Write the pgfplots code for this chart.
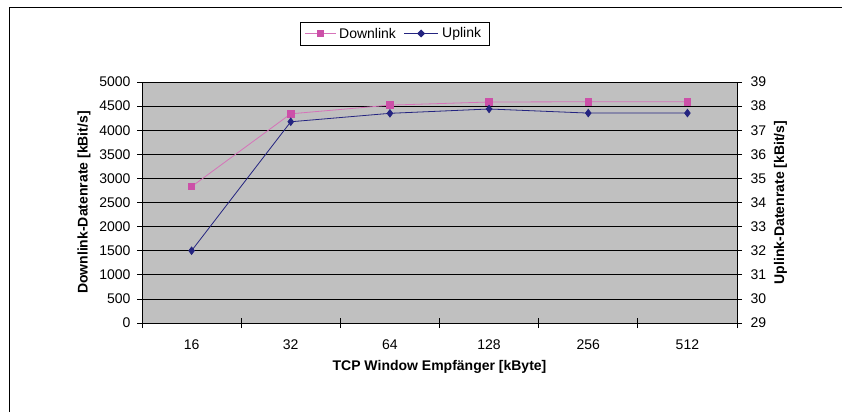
\documentclass[border=0pt]{standalone}
\usepackage{pgfplots}
\pgfplotsset{compat=1.18}
\usepackage{fontspec}
\setmainfont{Liberation Sans}

\definecolor{dlpink}{RGB}{204,80,168}
\definecolor{ulnavy}{RGB}{36,36,128}
\definecolor{plotgray}{RGB}{192,192,192}

\pgfplotstableread{
x  rate
0  2830
1  4340
2  4520
3  4585
4  4590
5  4590
}\downlink

\pgfplotstableread{
x  rate
0  32.00
1  37.35
2  37.70
3  37.88
4  37.71
5  37.71
}\uplink

\begin{document}
\begin{tikzpicture}[x=1pt,y=1pt]
\useasboundingbox (0,0) rectangle (842,412);
% outer chart frame (left and top edges visible)
\draw[line width=0.9pt] (9,0) -- (9,405) -- (842,405);

\pgfplotsset{
  common/.style={
    scale only axis,
    width=595pt, height=241pt,
    at={(142pt,89pt)}, anchor=south west,
    xmin=-0.5, xmax=5.5,
    font=\fontsize{14}{16}\selectfont,
    tick style={black, line width=0.8pt},
    /pgf/number format/assume math mode=true,
    /pgf/number format/1000 sep={},
  }
}

\begin{axis}[
  common,
  axis background/.style={fill=plotgray},
  axis line style={line width=0.9pt},
  ymin=0, ymax=5000,
  ytick={0,500,...,5000},
  ymajorgrids,
  major grid style={black, line width=0.8pt},
  axis y line*=left,
  axis x line*=bottom,
  xtick={0,1,2,3,4,5},
  xticklabels={16,32,64,128,256,512},
  major x tick style={draw=none},
  minor xtick={-0.5,0.5,1.5,2.5,3.5,4.5,5.5},
  xtick align=center,
  ytick align=outside,
  minor tick length=10pt,
  major tick length=5pt,
  xticklabel style={yshift=-11pt},
  yticklabel style={xshift=-3pt},
  xlabel={\textbf{TCP Window Empfänger [kByte]}},
  xlabel style={yshift=-4pt},
  ylabel={\textbf{Downlink-Datenrate [kBit/s]}},
  ylabel style={yshift=2pt},
  clip=false,
]
\addplot[color=dlpink!80, line width=0.8pt, mark=square*, mark size=3.3pt,
  mark options={fill=dlpink, draw=dlpink, solid}] table[x=x,y=rate] {\downlink};
\end{axis}

\begin{axis}[
  common,
  axis x line=none,
  axis y line*=right,
  axis line style={line width=0.9pt},
  ymin=29, ymax=39,
  ytick={29,30,...,39},
  ytick align=outside,
  major tick length=5pt,
  yticklabel style={xshift=5pt},
  ylabel={\textbf{Uplink-Datenrate [kBit/s]}},
  ylabel style={yshift=-1pt},
  clip=false,
]
\addplot[color=ulnavy, line width=0.8pt, mark=diamond*, mark size=3.7pt,
  mark options={fill=ulnavy, draw=ulnavy, solid}] table[x=x,y=rate] {\uplink};
\end{axis}

% legend box
\draw[line width=0.8pt, fill=white] (300,367) rectangle (489,390);
\draw[dlpink!80, line width=0.8pt] (305,378.5) -- (336,378.5);
\fill[dlpink] (317.3,375.3) rectangle (323.7,381.7);
\node[anchor=west, font=\fontsize{14}{16}\selectfont, inner sep=0pt] at (339,378.5) {Downlink};
\draw[ulnavy, line width=0.8pt] (404,378.5) -- (438,378.5);
\fill[ulnavy] (421,374.5) -- (425,378.5) -- (421,382.5) -- (417,378.5) -- cycle;
\node[anchor=west, font=\fontsize{14}{16}\selectfont, inner sep=0pt] at (442,378.5) {Uplink};
\end{tikzpicture}
\end{document}
